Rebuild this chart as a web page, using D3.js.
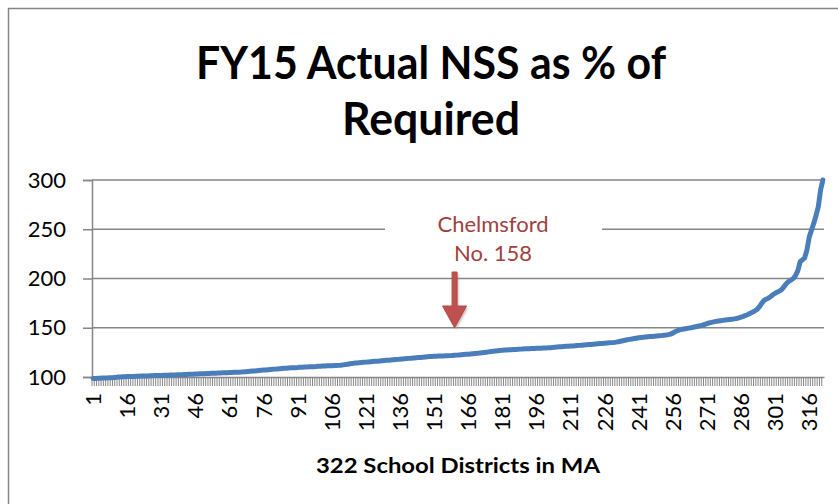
<!DOCTYPE html>
<html>
<head>
<meta charset="utf-8">
<script src="https://cdn.jsdelivr.net/npm/d3@7"></script>
<style>
  html, body { margin: 0; padding: 0; background: #fff; }
  svg { display: block; font-family: Lato, "Open Sans", sans-serif; }
</style>
</head>
<body>
<script>
// NSS as % of required, sorted, one value per district
const nssPct = [
  98.5, 98.6, 98.7, 98.8, 98.9, 99.0, 99.1, 99.2, 99.3, 99.4,
  99.6, 100.0, 100.1, 100.2, 100.3, 100.4, 100.4, 100.5, 100.6, 100.7,
  100.8, 100.9, 101.0, 101.0, 101.1, 101.2, 101.3, 101.4, 101.5, 101.5,
  101.6, 101.7, 101.8, 101.9, 102.0, 102.0, 102.1, 102.2, 102.3, 102.4,
  102.5, 102.6, 102.7, 102.8, 102.9, 103.0, 103.1, 103.2, 103.3, 103.4,
  103.5, 103.6, 103.7, 103.8, 103.9, 104.0, 104.1, 104.2, 104.3, 104.4,
  104.5, 104.6, 104.7, 104.8, 104.9, 105.0, 105.2, 105.4, 105.6, 105.8,
  106.0, 106.2, 106.4, 106.6, 106.8, 107.0, 107.2, 107.4, 107.6, 107.8,
  108.0, 108.2, 108.4, 108.6, 108.8, 109.0, 109.2, 109.3, 109.4, 109.5,
  109.6, 109.8, 110.0, 110.1, 110.2, 110.3, 110.4, 110.5, 110.6, 110.8,
  111.0, 111.1, 111.2, 111.3, 111.4, 111.5, 111.6, 111.7, 111.8, 112.0,
  112.3, 112.6, 113.0, 113.4, 113.8, 114.1, 114.3, 114.5, 114.7, 114.9,
  115.1, 115.3, 115.5, 115.7, 115.9, 116.1, 116.3, 116.5, 116.7, 116.9,
  117.1, 117.3, 117.5, 117.7, 117.9, 118.1, 118.3, 118.5, 118.7, 118.9,
  119.1, 119.3, 119.5, 119.7, 119.9, 120.1, 120.3, 120.5, 120.7, 120.9,
  121.0, 121.1, 121.2, 121.3, 121.4, 121.5, 121.6, 121.7, 121.8, 122.0,
  122.2, 122.4, 122.6, 122.8, 123.0, 123.2, 123.4, 123.6, 123.8, 124.0,
  124.3, 124.6, 124.9, 125.2, 125.5, 125.8, 126.1, 126.4, 126.7, 127.0,
  127.1, 127.3, 127.4, 127.6, 127.7, 127.9, 128.0, 128.2, 128.3, 128.5,
  128.6, 128.7, 128.8, 128.9, 129.0, 129.1, 129.2, 129.3, 129.4, 129.5,
  129.6, 129.8, 130.0, 130.2, 130.4, 130.6, 130.8, 131.0, 131.1, 131.2,
  131.4, 131.5, 131.7, 131.9, 132.1, 132.3, 132.5, 132.7, 132.9, 133.1,
  133.3, 133.5, 133.7, 133.9, 134.1, 134.3, 134.5, 134.7, 134.9, 135.1,
  135.4, 135.8, 136.3, 136.8, 137.3, 137.8, 138.2, 138.6, 139.0, 139.4,
  139.8, 140.1, 140.4, 140.6, 140.8, 141.0, 141.2, 141.4, 141.6, 141.8,
  142.0, 142.3, 142.6, 143.0, 143.5, 144.5, 146.0, 147.0, 147.8, 148.4,
  148.8, 149.2, 149.6, 150.0, 150.5, 151.0, 151.5, 152.0, 152.6, 153.3,
  154.2, 155.0, 155.5, 156.0, 156.5, 156.9, 157.2, 157.5, 157.8, 158.1,
  158.4, 158.7, 159.0, 159.4, 160.0, 160.8, 161.6, 162.5, 163.5, 164.6,
  165.8, 167.0, 168.5, 171.0, 174.5, 177.5, 179.0, 180.0, 181.5, 183.5,
  185.0, 186.2, 187.5, 189.0, 192.0, 195.0, 197.0, 198.5, 200.0, 203.0,
  208.0, 217.0, 219.0, 221.0, 229.0, 242.0, 249.0, 256.0, 264.0, 273.0,
  290.0, 300.0
];

// categories 1..322
const districts = nssPct.map((v, i) => i + 1);
const xTickLabels = [1, 16, 31, 46, 61, 76, 91, 106, 121, 136, 151, 166, 181, 196, 211, 226, 241, 256, 271, 286, 301, 316];
const yTicks = [100, 150, 200, 250, 300];

const titleLines = ["FY15 Actual NSS as % of", "Required"];
const xTitle = "322 School Districts in MA";
const noteLines = ["Chelmsford", "No. 158"];
const noteDistrict = 160;

const width = 838, height = 504;
const plotLeft = 92, plotRight = 824, plotTop = 180, plotBottom = 377;
const gray = "#868686";

const svg = d3.select("body").append("svg")
    .attr("width", width)
    .attr("height", height);

svg.append("rect")
    .attr("x", 8.5).attr("y", 8.5)
    .attr("width", 900).attr("height", 600)
    .attr("fill", "#fff")
    .attr("stroke", gray)
    .attr("stroke-width", 1.5);

var x = d3.scaleBand()
    .domain(districts)
    .range([plotLeft, plotRight]);

var y = d3.scaleLinear()
    .domain([100, 300])
    .range([plotBottom, plotTop]);

const cx = d => x(d) + x.bandwidth() / 2;

// gridlines
svg.append("g")
  .selectAll("line")
  .data(yTicks.slice(1))
  .enter().append("line")
  .attr("x1", plotLeft).attr("x2", plotRight)
  .attr("y1", d => y(d)).attr("y2", d => y(d))
  .attr("stroke", gray)
  .attr("stroke-width", 1.5);

// y axis
var yAxis = svg.append("g")
    .attr("transform", `translate(${plotLeft},0)`)
    .call(d3.axisLeft(y).tickValues(yTicks).tickSize(9).tickPadding(17));
yAxis.select(".domain").attr("stroke", gray).attr("stroke-width", 1.5);
yAxis.selectAll(".tick line").attr("stroke", gray).attr("stroke-width", 1.5);
yAxis.selectAll(".tick text")
    .attr("font-size", 22)
    .attr("fill", "#000")
    .style("font-family", "Lato, sans-serif");

// x axis: a tick for every district
var xAxisTicks = svg.append("g")
    .attr("transform", `translate(0,${plotBottom})`)
    .call(d3.axisBottom(x).tickSizeInner(9).tickSizeOuter(0).tickFormat(""));
xAxisTicks.select(".domain").attr("stroke", gray).attr("stroke-width", 1.5);
xAxisTicks.selectAll(".tick line")
    .attr("stroke", gray)
    .attr("stroke-width", 1)
    .attr("transform", `translate(${-x.bandwidth() / 2},0)`);

// x labels every 15
var xAxisLabels = svg.append("g")
    .attr("transform", `translate(0,${plotBottom})`)
    .call(d3.axisBottom(x).tickValues(xTickLabels).tickSize(0));
xAxisLabels.select(".domain").remove();
xAxisLabels.selectAll(".tick text")
    .attr("font-size", 22)
    .attr("fill", "#000")
    .attr("text-anchor", "end")
    .attr("transform", "rotate(-90)")
    .attr("x", -16)
    .attr("y", 0)
    .attr("dy", "0.36em")
    .style("font-family", "Lato, sans-serif");

// the series
var line = d3.line()
    .x((d, i) => cx(districts[i]))
    .y(d => y(d));

svg.append("path")
    .datum(nssPct)
    .attr("d", line)
    .attr("fill", "none")
    .attr("stroke", "#4a7ebb")
    .attr("stroke-width", 5)
    .attr("stroke-linejoin", "round")
    .attr("stroke-linecap", "round");

// annotation box + text
svg.append("rect")
    .attr("x", 385).attr("y", 206)
    .attr("width", 217).attr("height", 62)
    .attr("fill", "#fff");

svg.append("g")
  .selectAll("text")
  .data(noteLines)
  .enter().append("text")
  .attr("x", 493)
  .attr("y", (d, i) => 232 + i * 29)
  .attr("text-anchor", "middle")
  .attr("font-size", 22)
  .attr("fill", "#a0403d")
  .text(d => d);

// arrow
const defs = svg.append("defs");
defs.append("filter").attr("id", "shadow")
  .append("feGaussianBlur").attr("stdDeviation", 1.2);

const ax = cx(noteDistrict);
const tipY = y(150);
function arrowPath(dx, dy) {
  const p = d3.path();
  p.moveTo(ax - 2.5 + dx, 272 + dy);
  p.lineTo(ax + 2.5 + dx, 272 + dy);
  p.lineTo(ax + 2.5 + dx, 306 + dy);
  p.lineTo(ax + 12 + dx, 306 + dy);
  p.lineTo(ax + dx, tipY + dy);
  p.lineTo(ax - 12 + dx, 306 + dy);
  p.lineTo(ax - 2.5 + dx, 306 + dy);
  p.closePath();
  return p.toString();
}
svg.append("path")
    .attr("d", arrowPath(1.5, 2))
    .attr("fill", "#999")
    .attr("opacity", 0.6)
    .attr("filter", "url(#shadow)");
svg.append("path")
    .attr("d", arrowPath(0, 0))
    .attr("fill", "#c0504d")
    .attr("stroke", "#b54a47")
    .attr("stroke-width", 1)
    .attr("stroke-linejoin", "round");

// title
const titleWidths = [470, 178];
svg.append("g")
  .selectAll("text")
  .data(titleLines)
  .enter().append("text")
  .attr("x", 431)
  .attr("y", (d, i) => 79 + i * 56)
  .attr("text-anchor", "middle")
  .attr("font-size", 46)
  .attr("font-weight", "bold")
  .attr("fill", "#000")
  .attr("textLength", (d, i) => titleWidths[i])
  .attr("lengthAdjust", "spacingAndGlyphs")
  .text(d => d);

// x axis title
svg.append("text")
    .attr("x", (plotLeft + plotRight) / 2)
    .attr("y", 473)
    .attr("text-anchor", "middle")
    .attr("font-size", 21)
    .attr("font-weight", "bold")
    .attr("fill", "#000")
    .attr("textLength", 284)
    .attr("lengthAdjust", "spacingAndGlyphs")
    .text(xTitle);
</script>
</body>
</html>
